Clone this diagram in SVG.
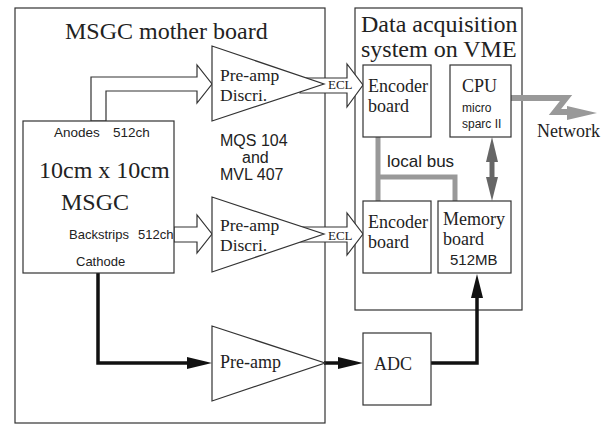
<svg xmlns="http://www.w3.org/2000/svg" width="613" height="425" viewBox="0 0 613 425">
<style>
.box{fill:#fff;stroke:#333;stroke-width:1.2}
.tri{fill:#fff;stroke:#333;stroke-width:1.2}
.hol{fill:#fff;stroke:#333;stroke-width:1.2;stroke-linejoin:miter}
.serif{font-family:"Liberation Serif","Times New Roman",serif;fill:#222}
.sans{font-family:"Liberation Sans",Arial,sans-serif;fill:#222}
.t24{font-size:24px}
.t18{font-size:18px}
.t17{font-size:17.5px}
.s13{font-size:13px}
.s16{font-size:16px}
.bus{fill:none;stroke:#999;stroke-width:5}
.blk{fill:none;stroke:#111;stroke-width:3.5}
</style>
<g id="mother-board">
<rect class="box" x="15" y="8" width="310" height="415"/>
<text class="serif t24" x="65" y="39">MSGC mother board</text>
<text class="sans s16" x="220" y="146">MQS 104</text>
<text class="sans s16" x="242" y="163">and</text>
<text class="sans s16" x="220" y="180">MVL 407</text>
</g>
<g id="daq">
<rect class="box" x="355" y="8" width="167" height="302"/>
<text class="serif t24" x="361" y="32">Data acquisition</text>
<text class="serif t24" x="361" y="57">system on VME</text>
<text class="sans" x="387" y="167" font-size="17">local bus</text>
</g>
<g id="connectors">
<polygon class="hol" points="91,121 91,77 197,77 197,65 212,84 197,103 197,91 106,91 106,121"/>
<polygon class="hol" points="174,227 197,227 197,215 212,234 197,253 197,242 174,242"/>
<polygon class="hol" points="300,78 347,78 347,64 363,85 347,107 347,93 300,93"/>
<polygon class="hol" points="300,227 347,227 347,213 363,234 347,255 347,242 300,242"/>
<polyline class="bus" points="378,137 378,201"/>
<polyline class="bus" points="378,177 455,177 455,201"/>
<polyline fill="none" stroke="#999" stroke-width="6" stroke-linejoin="miter" points="511,98 566,98 555,112 570,112"/>
<polygon fill="#999" points="567,106 597,113 567,120"/>
<line x1="492" y1="160" x2="492" y2="179" stroke="#666" stroke-width="5"/>
<polygon fill="#666" points="492,137 498,162 486,162"/>
<polygon fill="#666" points="492,201 498,177 486,177"/>
<polyline class="blk" points="98,273 98,363 188,363"/>
<polygon fill="#111" points="187,357 212,363 187,369"/>
<line class="blk" x1="324" y1="363" x2="340" y2="363"/>
<polygon fill="#111" points="338,357 363,363 338,369"/>
<polyline class="blk" points="430,363 477,363 477,296"/>
<polygon fill="#111" points="471,298 477,274 483,298"/>
</g>
<g id="msgc">
<rect class="box" x="23" y="121" width="151" height="152"/>
<text class="sans" x="54" y="137" font-size="13.5">Anodes<tspan x="113">512ch</tspan></text>
<text class="serif t24" x="39" y="178">10cm x 10cm</text>
<text class="serif t24" x="61" y="210">MSGC</text>
<text class="sans s13" x="69" y="239">Backstrips<tspan x="138">512ch</tspan></text>
<text class="sans s13" x="76" y="266">Cathode</text>
</g>
<g id="preamp-discri-1">
<polygon class="tri" points="212,46 212,121 324,84"/>
<text class="serif t17" x="220" y="81">Pre-amp</text>
<text class="serif t17" x="220" y="101">Discri.</text>
</g>
<g id="preamp-discri-2">
<polygon class="tri" points="212,197 212,272 324,234"/>
<text class="serif t17" x="220" y="231">Pre-amp</text>
<text class="serif t17" x="220" y="251">Discri.</text>
</g>
<g id="preamp">
<polygon class="tri" points="212,326 212,401 325,363"/>
<text class="serif t18" x="220" y="368">Pre-amp</text>
</g>
<g id="ecl-labels">
<text class="serif" x="328" y="89" font-size="13">ECL</text>
<text class="serif" x="328" y="240" font-size="13">ECL</text>
</g>
<g id="encoder-1">
<rect class="box" x="363" y="65" width="68" height="72"/>
<text class="serif t18" x="368" y="92">Encoder</text>
<text class="serif t18" x="368" y="112">board</text>
</g>
<g id="cpu">
<rect class="box" x="450" y="65" width="61" height="72"/>
<text class="serif t18" x="462" y="92">CPU</text>
<text class="sans" x="462" y="112" font-size="12">micro</text>
<text class="sans" x="462" y="128" font-size="12">sparc II</text>
</g>
<g id="encoder-2">
<rect class="box" x="363" y="201" width="68" height="72"/>
<text class="serif t18" x="368" y="228">Encoder</text>
<text class="serif t18" x="368" y="248">board</text>
</g>
<g id="memory">
<rect class="box" x="438" y="201" width="73" height="72"/>
<text class="serif t18" x="443" y="225">Memory</text>
<text class="serif t18" x="443" y="245">board</text>
<text class="sans" x="450" y="265" font-size="15">512MB</text>
</g>
<g id="adc">
<rect class="box" x="363" y="333" width="68" height="72"/>
<text class="serif t18" x="374" y="370">ADC</text>
</g>
<g id="network">
<text class="serif t18" x="537" y="137">Network</text>
</g>
</svg>
